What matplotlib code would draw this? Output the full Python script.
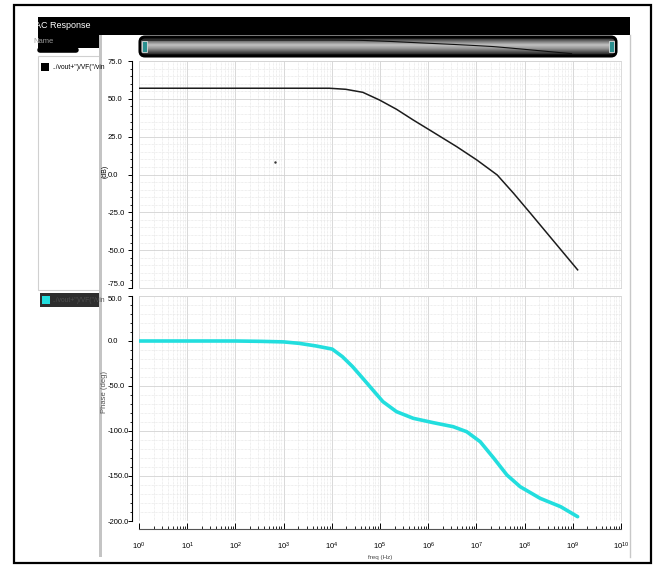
"""AC response of the amplifier: gain and phase versus frequency."""

import numpy as np
import matplotlib.pyplot as plt
from matplotlib.colors import LinearSegmentedColormap
from matplotlib.patches import Rectangle, FancyBboxPatch
from matplotlib.ticker import FixedLocator, LogLocator, MultipleLocator, NullFormatter

W, H = 657, 565

# gain trace
mag_freq = [1, 10, 100, 1e3, 8.9e3, 1.95e4, 4.4e4, 9.8e4, 2.2e5, 4.9e5, 1.07e6,
            3.9e6, 1.02e7, 2.7e7, 5.9e7, 1.32e8, 4.1e8, 1.26e9]
mag_db = [57.0, 57.0, 57.0, 57.0, 57.0, 56.3, 54.3, 49.2, 43.1, 36.0, 29.4,
          18.4, 9.6, -0.3, -12.4, -25.6, -44.4, -63.0]

# phase trace
phase_freq = [1, 10, 100, 350, 1e3, 2.1e3, 4.7e3, 1.02e4, 1.66e4, 2.7e4, 4.4e4,
              7.1e4, 1.15e5, 2.2e5, 4.9e5, 1.26e6, 3.3e6, 6.3e6, 1.2e7, 2.3e7,
              4.3e7, 8.1e7, 2.1e8, 5.6e8, 1.26e9]
phase_deg = [0.0, 0.0, 0.0, -0.4, -1.0, -2.6, -5.5, -9.0, -17.4, -28.5, -41.5,
             -54.4, -67.4, -78.5, -85.9, -90.7, -95.2, -100.8, -111.9, -130.3,
             -148.9, -161.9, -174.8, -184.1, -195.2]

# stray point left on the gain strip
dot_freq = [660]
dot_db = [8.3]

mag_ticks = [75, 50, 25, 0, -25, -50, -75]
phase_ticks = [50, 0, -50, -100, -150, -200]
decades = [10.0 ** k for k in range(11)]

window_title = "AC Response"
list_header = "Name"
trace_names = ['../vout+")/VF("/vin', '../vout+")/VF("/vin']
mag_label = "(dB)"
phase_label = "Phase (deg)"
freq_label = "freq (Hz)"

mag_color = "#1c1c1c"
phase_color = "#22dede"

plt.rcParams["font.family"] = ["Liberation Sans", "DejaVu Sans"]

fig = plt.figure(figsize=(W / 100, H / 100), dpi=100)


def box(x0, y0, x1, y1):
    """Pixel rectangle (top-left origin) to figure fractions."""
    return [x0 / W, 1 - y1 / H, (x1 - x0) / W, (y1 - y0) / H]


# window chrome drawn in pixel coordinates
bg = fig.add_axes([0, 0, 1, 1], zorder=0)
bg.set_xlim(0, W)
bg.set_ylim(H, 0)
bg.axis("off")

bg.add_patch(Rectangle((14, 5), 637, 558, fill=False, ec="black", lw=1.6))
title_bar = Rectangle((38, 17), 592, 18, fc="black", ec="none")
header = Rectangle((38, 35), 62, 13, fc="black", ec="none")
bg.add_patch(title_bar)
bg.add_patch(header)

t = bg.text(35, 26, window_title, color="white", fontsize=6.5, va="center")
t.set_clip_path(title_bar)
t = bg.text(33, 41.5, list_header, color="#9a9a9a", fontsize=5.5, va="center")
t.set_clip_path(header)
bg.plot([40, 76], [50, 50], color="black", lw=4, solid_capstyle="round")

bg.add_patch(Rectangle((38, 56), 62, 234, fill=False, ec="#d0d0d0", lw=0.8))
name_clip = Rectangle((38, 56), 61, 260, fill=False, ec="none")
bg.add_patch(name_clip)

bg.add_patch(Rectangle((41, 63), 8, 8, fc="black", ec="none"))
t = bg.text(52, 67.5, trace_names[0], color="black", fontsize=4.8, va="center")
t.set_clip_path(name_clip)

bg.add_patch(Rectangle((40, 293), 60, 14, fc="#2e2e2e", ec="none"))
bg.add_patch(Rectangle((42, 296), 8, 8, fc=phase_color, ec="none"))
t = bg.text(52, 300.5, trace_names[1], color="#4f4f4f", fontsize=4.8, va="center")
t.set_clip_path(name_clip)

bg.add_patch(Rectangle((99, 35), 3, 522, fc="#c4c4c4", ec="none"))
bg.plot([630, 630], [35, 557], color="#c8c8c8", lw=1)

# overview scroll bar with the gain trace in miniature
shade = LinearSegmentedColormap.from_list(
    "bar", ["#262626", "#7a7a7a", "#c2c2c2", "#9a9a9a", "#5a5a5a", "#1a1a1a"])
bar_img = fig.add_axes(box(142, 38, 614, 55), zorder=1)
bar_img.imshow(np.linspace(0, 1, 64).reshape(-1, 1), cmap=shade,
               aspect="auto", extent=(0, 1, 0, 1))
bar_img.axis("off")

bar_trace = fig.add_axes(box(142, 38, 614, 55), zorder=1.5)
bar_trace.patch.set_alpha(0)
bar_trace.plot(mag_freq, mag_db, color="#101010", lw=0.8)
bar_trace.set_xscale("log")
bar_trace.set_xlim(decades[0], decades[-1])
bar_trace.set_ylim(-75, 75)
bar_trace.axis("off")

fg = fig.add_axes([0, 0, 1, 1], zorder=6)
fg.set_xlim(0, W)
fg.set_ylim(H, 0)
fg.axis("off")
fg.add_patch(FancyBboxPatch((140, 37), 476, 19,
                            boxstyle="round,pad=0,rounding_size=5",
                            fill=False, ec="black", lw=2.2))
for x0 in (142, 609):
    fg.add_patch(Rectangle((x0, 41), 5, 11, fc="#2a8f8f", ec="#d8d8d8", lw=0.6))


def style_strip(ax, ticks, minor_step):
    ax.set_facecolor("white")
    ax.set_xscale("log")
    ax.set_xlim(decades[0], decades[-1])
    ax.set_ylim(ticks[-1], ticks[0])
    ax.yaxis.set_major_locator(FixedLocator(ticks))
    ax.yaxis.set_minor_locator(MultipleLocator(minor_step))
    ax.set_yticklabels([f"{v:.1f}" for v in ticks])
    ax.xaxis.set_major_locator(FixedLocator(decades))
    ax.xaxis.set_minor_locator(LogLocator(base=10, subs=np.arange(2, 10), numticks=20))
    ax.xaxis.set_minor_formatter(NullFormatter())
    ax.grid(which="major", color="#d2d2d2", lw=0.6, ls="-")
    ax.grid(which="minor", color="#e0e0e0", lw=0.5, ls=(0, (1, 1)))
    ax.set_axisbelow(True)
    for side in ("top", "right", "bottom"):
        ax.spines[side].set_color("#d6d6d6")
        ax.spines[side].set_linewidth(0.6)
    ax.spines["left"].set_position(("outward", 5))
    ax.spines["left"].set_linewidth(0.8)
    ax.tick_params(axis="y", which="major", direction="out", length=3,
                   width=0.7, pad=14.5, labelsize=5.5)
    ax.tick_params(axis="y", which="minor", direction="out", length=1.8, width=0.6)


mag_ax = fig.add_axes(box(139, 61, 621, 288), zorder=2)
style_strip(mag_ax, mag_ticks, 5)
mag_ax.tick_params(axis="x", which="both", length=0, labelbottom=False)
mag_ax.plot(mag_freq, mag_db, color=mag_color, lw=1.1)
mag_ax.plot(dot_freq, dot_db, ".", color="#333333", ms=1.5)

phase_ax = fig.add_axes(box(139, 296, 621, 521), zorder=2)
style_strip(phase_ax, phase_ticks, 10)
phase_ax.spines["bottom"].set_position(("outward", 6))
phase_ax.spines["bottom"].set_color("#555555")
phase_ax.spines["bottom"].set_linewidth(0.8)
phase_ax.tick_params(axis="x", which="major", direction="in", length=4,
                     width=0.7, pad=8, labelsize=5.5)
phase_ax.tick_params(axis="x", which="minor", direction="in", length=2.5, width=0.6)
phase_ax.plot(phase_freq, phase_deg, color=phase_color, lw=2.6,
              solid_capstyle="round")

bg.text(105, 171, mag_label, rotation=90, fontsize=5, ha="center", va="center")
bg.text(104, 392, phase_label, rotation=90, fontsize=5.5, color="#555555",
        ha="center", va="center")
bg.text(380, 557, freq_label, fontsize=4.5, color="#444444", ha="center",
        va="center")

# value labels hang left-aligned from a common margin; the two labels
# where the strips meet are nudged apart
fig.canvas.draw()
for ax in (mag_ax, phase_ax):
    for lbl in ax.get_yticklabels():
        lbl.set_horizontalalignment("left")
mag_ax.get_yticklabels()[-1].set_verticalalignment("bottom")
phase_ax.get_yticklabels()[0].set_verticalalignment("top")

fig.savefig("out.png", dpi=100)
